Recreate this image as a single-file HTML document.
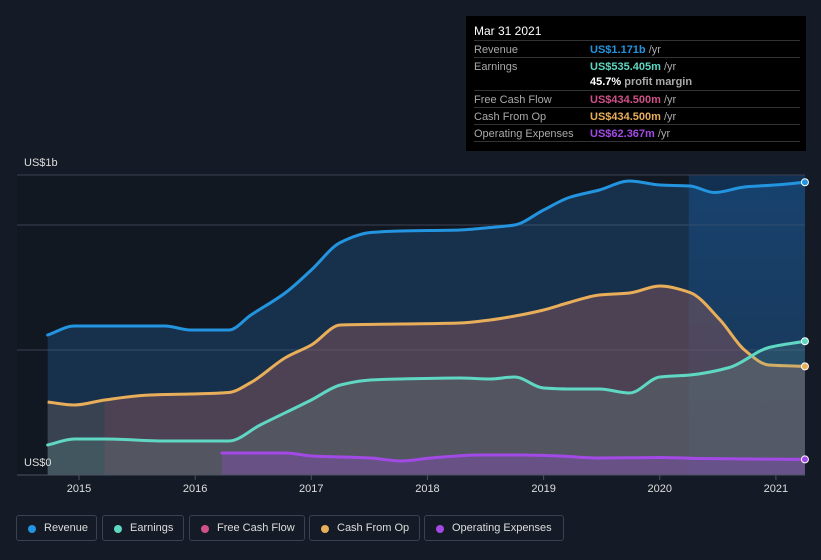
<!DOCTYPE html>
<html><head><meta charset="utf-8"><style>
body{margin:0;background:#151b26;font-family:"Liberation Sans",sans-serif;}
#wrap{position:relative;width:821px;height:560px;overflow:hidden;}
.tt{position:absolute;left:466px;top:16px;width:340px;height:135px;background:#000;color:#fff;font-size:11px;}
.tt .row{position:absolute;left:8px;right:6px;height:17px;border-top:1px solid #333;}
.tt .l{position:absolute;left:0;top:3px;color:#aaa}
.tt .v{position:absolute;left:116px;top:3px;font-weight:bold}
.tt .v span{color:#aaa;font-weight:normal}
.leg{position:absolute;top:515px;height:26px;border:1px solid #3a4150;border-radius:3px;color:#ddd;font-size:11px;box-sizing:border-box;padding:6px 0 0 27px;white-space:nowrap}
.leg i{position:absolute;left:11px;top:9px;width:8px;height:8px;border-radius:50%}
</style></head><body><div id="wrap">
<svg id="svg" width="821" height="560" style="position:absolute;left:0;top:0"></svg>
<div class="tt">
<div style="position:absolute;left:8px;top:8px;font-size:12px">Mar 31 2021</div>
<div class="row" style="top:24px"><div class="l">Revenue</div><div class="v" style="color:#2394df">US$1.171b <span>/yr</span></div></div>
<div class="row" style="top:41px"><div class="l">Earnings</div><div class="v" style="color:#5fd7c3">US$535.405m <span>/yr</span></div></div>
<div style="position:absolute;left:124px;top:60px;font-weight:bold">45.7% <span style="color:#aaa">profit margin</span></div>
<div class="row" style="top:74px"><div class="l">Free Cash Flow</div><div class="v" style="color:#d0508a">US$434.500m <span>/yr</span></div></div>
<div class="row" style="top:91px"><div class="l">Cash From Op</div><div class="v" style="color:#e8ae5a">US$434.500m <span>/yr</span></div></div>
<div class="row" style="top:108px"><div class="l">Operating Expenses</div><div class="v" style="color:#a34ae6">US$62.367m <span>/yr</span></div></div>
<div class="row" style="top:125px;height:0"></div>
</div>
<div class="leg" style="left:16px;width:81px"><i style="background:#2394df"></i>Revenue</div>
<div class="leg" style="left:102px;width:82px"><i style="background:#5fd7c3"></i>Earnings</div>
<div class="leg" style="left:189px;width:116px"><i style="background:#d0508a"></i>Free Cash Flow</div>
<div class="leg" style="left:309px;width:111px"><i style="background:#e8ae5a"></i>Cash From Op</div>
<div class="leg" style="left:424px;width:140px"><i style="background:#a34ae6"></i>Operating Expenses</div>
</div>
<script>
const revX=[2014.73,2014.96,2015.74,2015.96,2016.29,2016.48,2016.78,2017.0,2017.25,2017.51,2017.77,2018.28,2018.54,2018.75,2019.0,2019.22,2019.48,2019.74,2020.0,2020.26,2020.47,2020.73,2020.99,2021.25];
const revV=[0.56,0.596,0.596,0.58,0.58,0.64,0.73,0.82,0.93,0.97,0.976,0.98,0.99,1.0,1.06,1.11,1.14,1.176,1.16,1.156,1.13,1.152,1.16,1.171];
const earnX=[2014.73,2014.96,2015.22,2015.74,2016.29,2016.56,2017.0,2017.25,2017.51,2017.77,2018.28,2018.54,2018.75,2019.0,2019.22,2019.48,2019.74,2020.0,2020.26,2020.6,2020.94,2021.25];
const earnV=[0.12,0.144,0.144,0.136,0.136,0.2,0.3,0.36,0.38,0.384,0.388,0.384,0.392,0.348,0.344,0.344,0.328,0.392,0.4,0.43,0.51,0.535];
const cfoX=[2014.73,2014.96,2015.22,2015.61,2015.96,2016.29,2016.48,2016.78,2017.0,2017.25,2017.77,2018.28,2018.54,2018.8,2019.0,2019.22,2019.48,2019.74,2020.0,2020.26,2020.52,2020.73,2020.94,2021.25];
const cfoV=[0.292,0.28,0.3,0.32,0.324,0.33,0.37,0.47,0.52,0.6,0.604,0.608,0.62,0.64,0.66,0.69,0.72,0.728,0.756,0.73,0.62,0.5,0.44,0.4345];
const fcfStart=2015.22;
const opxX=[2016.23,2016.78,2017.0,2017.51,2017.77,2018.03,2018.45,2018.8,2019.14,2019.48,2020.0,2020.35,2021.25];
const opxV=[0.088,0.088,0.076,0.068,0.056,0.068,0.08,0.08,0.076,0.068,0.07,0.066,0.0624];
const years=[2015,2016,2017,2018,2019,2020,2021];
const xs=y=>79+(y-2015)*116.15, ys=v=>475-v*250;
const svg=document.getElementById('svg');const NS='http://www.w3.org/2000/svg';
function el(t,a,name){const e=document.createElementNS(NS,t);for(const k in a)e.setAttribute(k,a[k]);


svg.appendChild(e);return e;}
function path(X,V){const p=X.map((x,i)=>[xs(x),ys(V[i])]);const n=p.length;
const dx=[],m=[],t=[];for(let i=0;i<n-1;i++){dx.push(p[i+1][0]-p[i][0]);m.push((p[i+1][1]-p[i][1])/dx[i]);}
t[0]=m[0];t[n-1]=m[n-2];for(let i=1;i<n-1;i++){t[i]=(m[i-1]*m[i]<=0)?0:(dx[i-1]+dx[i])*3/((2*dx[i]+dx[i-1])/m[i-1]+(dx[i]+2*dx[i-1])/m[i]);}
let d='M'+p[0].join(',');
for(let i=0;i<n-1;i++){const h=dx[i]/3;d+=` C${p[i][0]+h},${p[i][1]+t[i]*h} ${p[i+1][0]-h},${p[i+1][1]-t[i+1]*h} ${p[i+1][0]},${p[i+1][1]}`;}
return {d,p};}
function area(X,V,fill,stroke,name,w){const {d,p}=path(X,V);
el('path',{d:d+` L${p[p.length-1][0]},475 L${p[0][0]},475 Z`,fill:fill,stroke:'none'},name+'-area');
if(stroke)el('path',{d,fill:'none',stroke,'stroke-width':w||3,'stroke-linecap':'round'},name+'-line');return p;}
const defs=el('defs',{},'defs');
defs.innerHTML='<linearGradient id="hl" x1="0" x2="0" y1="0" y2="1"><stop offset="0" stop-color="#12447a" stop-opacity=".55"/><stop offset="1" stop-color="#1a3a5c" stop-opacity=".2"/></linearGradient>';
el('rect',{x:17,y:175,width:788,height:300,fill:'#121822'},'plot-bg');
el('rect',{x:xs(2020.25),y:175,width:805-xs(2020.25),height:300,fill:'url(#hl)'},'highlight-region');
[175,225,350].forEach((y,i)=>el('line',{x1:17,x2:805,y1:y,y2:y,stroke:'#3a4150','stroke-width':1},'gridline'));
const rp=area(revX,revV,'rgba(35,110,180,0.3)','#2394df','revenue');
const cp=area(cfoX,cfoV,'rgba(120,100,90,0.35)',null,'cash-from-op');
const fi=cfoX.findIndex(x=>x>=fcfStart);
area(cfoX.slice(fi),cfoV.slice(fi),'rgba(160,70,100,0.2)',null,'free-cash-flow');
el('path',{d:path(cfoX,cfoV).d,fill:'none',stroke:'#e8ae5a','stroke-width':3},'cash-from-op-line');
const ep=area(earnX,earnV,'rgba(110,180,160,0.18)','#5fd7c3','earnings');
const op=area(opxX,opxV,'rgba(150,70,220,0.3)','#a34ae6','operating-expenses');
[[rp,'#2394df'],[ep,'#5fd7c3'],[cp,'#e8ae5a'],[op,'#a34ae6']].forEach(([p,c])=>{const q=p[p.length-1];el('circle',{cx:q[0],cy:q[1],r:3.5,fill:c,stroke:'#fff','stroke-width':1},'end-dot');});
el('line',{x1:17,x2:805,y1:475,y2:475,stroke:'#4a5160'},'x-axis');
years.forEach(y=>{el('line',{x1:xs(y),x2:xs(y),y1:475,y2:480,stroke:'#4a5160'},'x-tick');
const t=el('text',{x:xs(y),y:492,fill:'#ddd','font-size':11,'text-anchor':'middle','font-family':'Liberation Sans'},'x-tick-label');t.textContent=y;});
let t=el('text',{x:24,y:166,fill:'#ddd','font-size':11,'font-family':'Liberation Sans'},'y-label-top');t.textContent='US$1b';
t=el('text',{x:24,y:466,fill:'#ddd','font-size':11,'font-family':'Liberation Sans'},'y-label-zero');t.textContent='US$0';
</script></body></html>
